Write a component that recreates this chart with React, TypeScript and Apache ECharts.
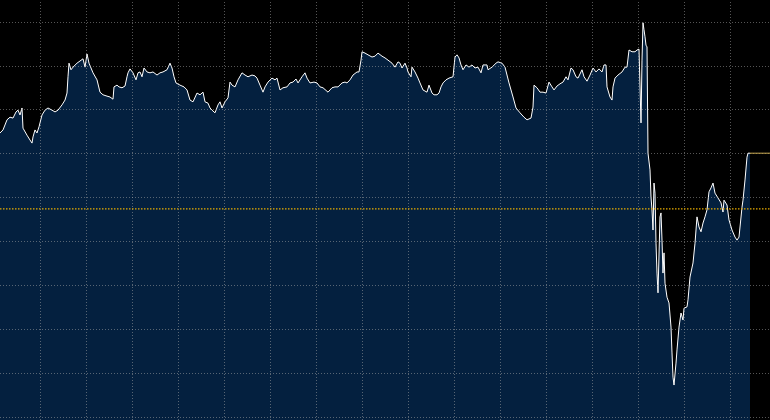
import React, { useEffect, useRef } from "react";
import * as echarts from "echarts";

// Trading-day index (x) and price (y)
const days: number[] = [
  6, 9, 13, 16, 19, 22, 24, 26, 28, 29, 33, 36, 38, 39, 41, 43, 45, 48, 51, 54, 58, 61, 64, 68, 71, 73,
  74, 75, 77, 79, 83, 86, 89, 91, 93, 95, 97, 99, 103, 106, 109, 113, 116, 119, 120, 123, 125, 128, 131,
  133, 134, 136, 139, 142, 144, 146, 148, 150, 153, 156, 159, 163, 166, 169, 173, 176, 178, 180, 182,
  186, 190, 193, 196, 199, 203, 206, 209, 211, 214, 216, 218, 221, 224, 226, 228, 231, 234, 236, 238,
  241, 244, 248, 251, 254, 258, 261, 263, 266, 269, 271, 274, 278, 281, 283, 286, 289, 293, 296, 299,
  302, 304, 308, 311, 313, 316, 320, 323, 326, 329, 334, 338, 341, 344, 348, 351, 353, 356, 359, 363,
  365, 367, 368, 371, 374, 378, 381, 384, 388, 391, 394, 398, 401, 404, 406, 408, 411, 413, 414, 417,
  418, 421, 424, 426, 429, 433, 435, 438, 440, 443, 445, 447, 449, 452, 455, 459, 461, 463, 465, 467,
  469, 472, 475, 478, 481, 484, 487, 489, 493, 494, 498, 502, 504, 508, 511, 515, 519, 522, 526, 530,
  533, 537, 539, 540, 543, 546, 549, 552, 555, 558, 560, 563, 566, 569, 572, 574, 577, 579, 582, 584,
  588, 590, 593, 596, 599, 602, 605, 608, 610, 612, 613, 616, 618, 619, 621, 624, 628, 631, 633, 635,
  638, 641, 643, 645, 647, 648, 649, 650, 651, 652, 653, 654, 656, 657, 658, 659, 660, 661, 662, 663,
  664, 666, 667, 668, 669, 670, 671, 673, 675, 677, 678, 679, 680, 682, 683, 685, 687, 689, 690, 693,
  694, 696, 699, 701, 703, 705, 707, 709, 711, 713, 715, 717, 719, 721, 724, 727, 729, 730, 733, 735,
  738, 741, 743, 745, 748, 749, 751, 753, 754, 756
];

const prices: number[] = [
  74.7, 75.4, 77.7, 78.3, 78.1, 79.5, 79.9, 78.8, 80.4, 75.8, 74.2, 73.1, 72.4, 73.8, 75.4, 74.7, 76.1,
  78.8, 79.9, 80.4, 79.9, 79.5, 79.9, 81.1, 82.2, 83.8, 87.5, 90.6, 89.1, 89.7, 90.6, 91.1, 91.6, 89.7,
  92.7, 90.6, 89.5, 88.4, 86.8, 84.0, 83.4, 83.1, 82.9, 82.4, 85.2, 85.6, 85.2, 85.0, 85.4, 87.5, 88.4,
  89.3, 88.4, 86.8, 88.4, 88.6, 87.5, 89.5, 88.6, 88.4, 88.6, 87.9, 88.4, 88.6, 89.1, 90.6, 89.5, 87.5,
  86.1, 85.6, 85.2, 84.5, 82.2, 81.8, 83.8, 83.4, 84.0, 81.8, 81.5, 80.4, 79.9, 79.3, 81.1, 81.8, 80.4,
  81.8, 82.7, 86.3, 85.6, 85.2, 86.8, 88.4, 87.9, 87.5, 87.9, 87.7, 87.2, 85.6, 84.0, 85.2, 86.3, 87.2,
  86.8, 87.2, 84.5, 85.0, 85.2, 86.1, 86.3, 87.0, 86.1, 87.5, 88.4, 87.2, 86.1, 86.3, 86.1, 85.2, 85.0,
  84.0, 85.0, 85.2, 85.2, 86.1, 86.3, 86.1, 86.8, 87.9, 88.6, 88.6, 91.3, 93.2, 92.9, 92.5, 92.0, 92.2,
  92.9, 92.2, 91.8, 91.3, 90.6, 89.7, 90.9, 90.6, 89.5, 90.6, 89.5, 88.6, 87.5, 89.7, 88.6, 87.2, 86.1,
  84.5, 84.0, 85.6, 83.8, 83.4, 83.4, 83.8, 85.2, 86.1, 86.8, 87.2, 87.5, 92.0, 92.5, 91.8, 90.2, 89.1,
  90.2, 89.7, 90.2, 89.5, 89.7, 88.4, 90.2, 90.2, 89.1, 89.7, 90.6, 90.9, 90.6, 89.7, 86.1, 82.9, 80.4,
  79.3, 78.3, 77.7, 78.1, 80.6, 85.6, 85.0, 84.0, 84.0, 83.8, 86.3, 85.2, 84.5, 85.4, 85.9, 86.3, 87.5,
  86.8, 89.5, 89.1, 87.5, 87.2, 89.1, 87.5, 86.5, 87.9, 89.5, 88.6, 89.3, 88.6, 90.2, 90.2, 85.2, 82.9,
  82.2, 85.2, 87.2, 87.9, 88.6, 89.7, 89.7, 93.6, 93.2, 93.2, 93.6, 93.8, 77.0, 91.3, 99.8, 98.2, 96.6,
  94.7, 94.3, 70.1, 66.3, 60.1, 57.2, 52.6, 63.3, 61.0, 49.6, 42.8, 38.3, 55.6, 56.5, 50.3, 42.8, 47.4,
  40.5, 37.3, 36.0, 30.5, 24.6, 19.1, 17.3, 22.3, 25.3, 30.5, 33.7, 32.1, 34.8, 35.1, 36.7, 41.9, 45.1,
  49.6, 55.6, 53.3, 52.2, 54.2, 55.6, 57.2, 61.3, 62.2, 63.3, 61.0, 59.9, 58.8, 56.7, 59.4, 58.3, 54.9,
  52.6, 51.0, 50.3, 51.0, 57.8, 59.4, 64.0, 69.2, 70.1, 70.1
];

const referenceLevel = 57.4;
const xMin = 0;
const xMax = 782;
const xInterval = 46;
const yMin = 0;
const yMax = 110;
const yInterval = 10;

export default function App() {
  const ref = useRef<HTMLDivElement>(null);

  useEffect(() => {
    if (!ref.current) return;
    const chart = echarts.init(ref.current, undefined, { renderer: "svg" });
    const mainData = days.map((d, i) => [d, prices[i]]);
    const lastDay = days[days.length - 1];
    const lastPrice = prices[prices.length - 1];
    const gridLine = {
      show: true,
      lineStyle: { color: "rgba(170,170,170,0.5)", width: 1, type: [1, 2] as any },
    };
    chart.setOption({
      animation: false,
      backgroundColor: "#000000",
      grid: {
        left: -6,
        right: -6,
        top: -22,
        bottom: -41,
        containLabel: false,
        outerBoundsMode: "none",
      } as any,
      xAxis: {
        type: "value",
        min: xMin,
        max: xMax,
        interval: xInterval,
        z: 5,
        axisLine: { show: false },
        axisTick: { show: false },
        axisLabel: { show: false },
        splitLine: gridLine,
      },
      yAxis: {
        type: "value",
        min: yMin,
        max: yMax,
        interval: yInterval,
        z: 5,
        axisLine: { show: false },
        axisTick: { show: false },
        axisLabel: { show: false },
        splitLine: gridLine,
      },
      series: [
        {
          type: "line",
          data: mainData,
          showSymbol: false,
          symbol: "none",
          lineStyle: { color: "#ffffff", width: 1 },
          areaStyle: { color: "#04203f", opacity: 1 },
          z: 2,
        },
        {
          type: "line",
          data: [
            [lastDay, lastPrice],
            [xMax, lastPrice],
          ],
          showSymbol: false,
          symbol: "none",
          lineStyle: { color: "#c8a850", width: 1 },
          z: 6,
        },
        {
          type: "line",
          data: [
            [xMin, referenceLevel],
            [xMax, referenceLevel],
          ],
          showSymbol: false,
          symbol: "none",
          silent: true,
          lineStyle: { color: "#e8ac00", width: 1.3, type: [1.5, 1.5] as any },
          z: 10,
        },
      ],
    });
    return () => chart.dispose();
  }, []);

  return (
    <div
      ref={ref}
      style={{ position: "fixed", left: 0, top: 0, width: 770, height: 420 }}
    />
  );
}
